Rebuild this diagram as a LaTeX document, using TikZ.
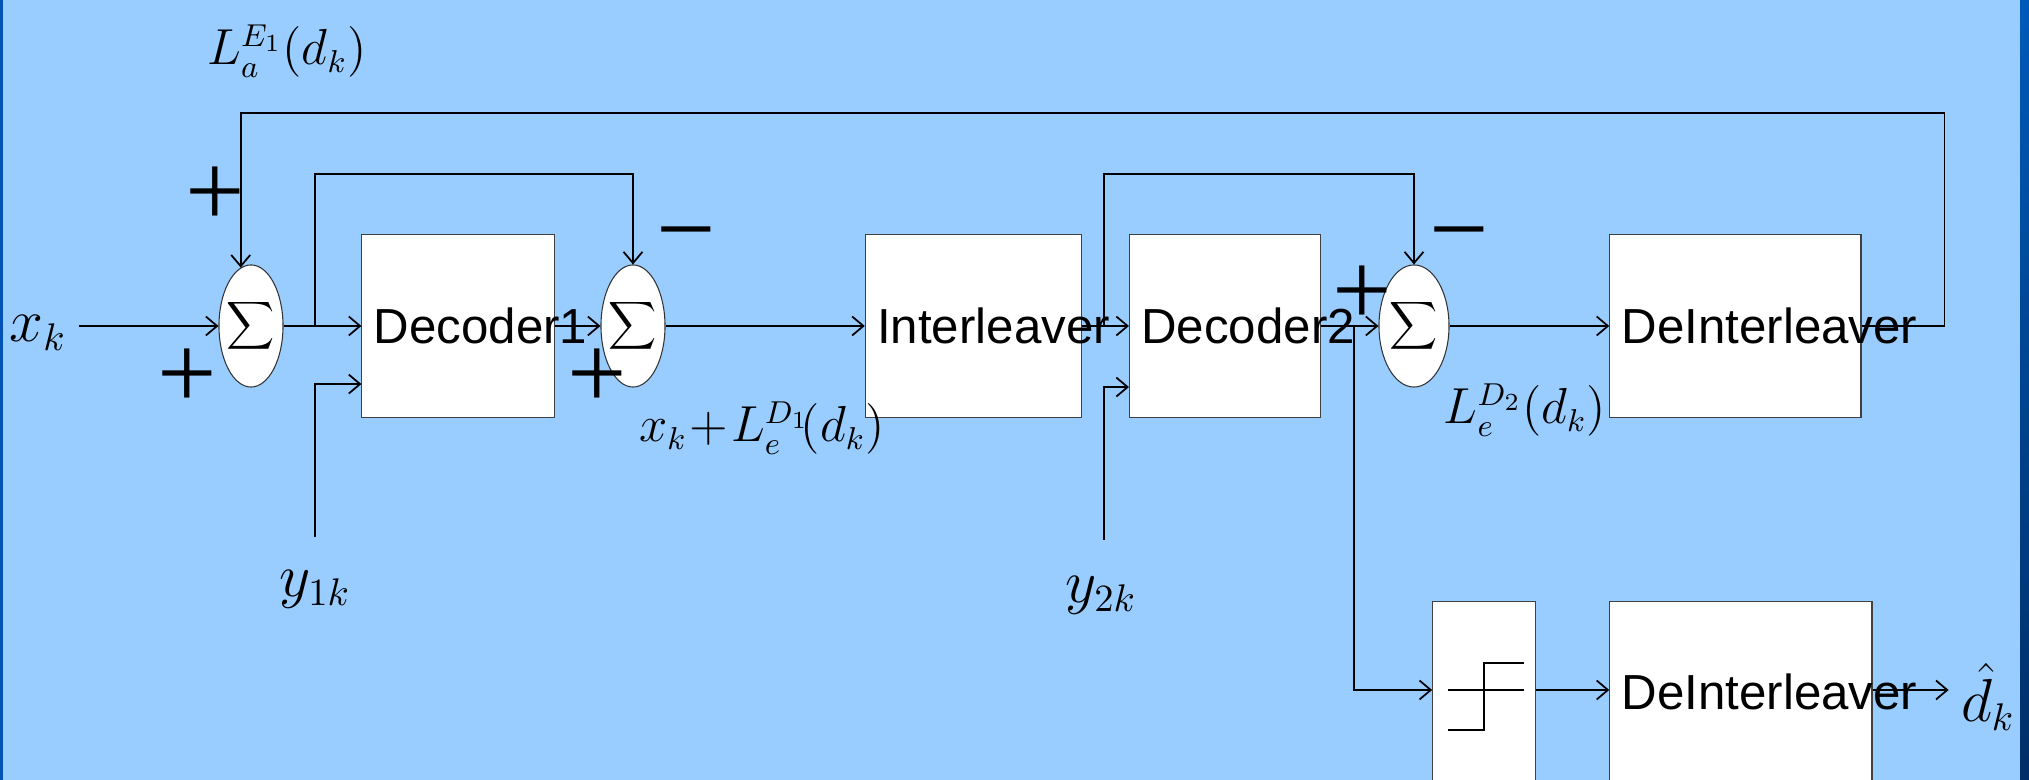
\documentclass[tikz,border=0pt]{standalone}
\usepackage{amsmath, amssymb}
\usepackage{fontspec}
\usepackage{tikz}
\usetikzlibrary{shapes.geometric, arrows.meta, positioning, calc}
\newfontfamily\blkfont{Liberation Sans}
\newfontfamily\signfont{Liberation Serif}
\definecolor{panelblue}{HTML}{99CCFF}
\definecolor{edgeblue}{HTML}{0052B4}
\definecolor{edgetop}{HTML}{005AB9}
\definecolor{edgebottom}{HTML}{002E66}

\begin{document}
\begin{tikzpicture}[
    x=0.01cm, y=-0.01cm,
    blk/.style={rectangle, draw=black!75, fill=white, line width=0.3pt, minimum height=1.83cm, inner sep=0pt},
    blktxt/.style={anchor=west, font=\blkfont\fontsize{14}{16}\selectfont},
    summer/.style={ellipse, draw=black!80, fill=white, line width=0.3pt, minimum width=0.64cm, minimum height=1.22cm, inner sep=0pt,
        label={[inner sep=0pt, font=\fontsize{9.5}{10}\selectfont]center:$\displaystyle\sum$}},
    sgn/.style={anchor=base, inner sep=0pt, font=\signfont\fontsize{30}{30}\selectfont},
    mlbl/.style={font=\fontsize{16}{18}\selectfont},
    llbl/.style={font=\fontsize{13.5}{16}\selectfont},
    arrow/.style={-{Straight Barb[length=3.2pt, width=5.4pt]}, line width=0.5pt},
    wire/.style={line width=0.5pt},
]
    \useasboundingbox (0,0) rectangle (2029,780);
    \fill[panelblue] (0,0) rectangle (2029,780);
    \fill[edgeblue] (0,0) rectangle (3,780);
    \shade[top color=edgetop, bottom color=edgebottom] (2020,0) rectangle (2029,780);

    % adders
    \node[summer] (s1) at (251,326) {};
    \node[summer] (s2) at (633,326) {};
    \node[summer, minimum width=0.7cm] (s3) at (1414,326) {};

    % blocks
    \node[blk, minimum width=1.92cm, label={[blktxt]west:Decoder1}] (dec1) at (458,326) {};
    \node[blk, minimum width=2.16cm, right=3.1cm of dec1, label={[blktxt]west:Interleaver}] (il) {};
    \node[blk, minimum width=1.91cm, right=0.47cm of il, label={[blktxt]west:Decoder2}] (dec2) {};
    \node[blk, minimum width=2.51cm, right=2.88cm of dec2, label={[blktxt]west:DeInterleaver}] (dil1) {};
    \node[blk, minimum width=2.62cm, minimum height=2cm, below right=1.83cm and 0cm of dil1.south west,
        label={[blktxt, yshift=0.1cm]west:DeInterleaver}] (dil2) {};
    \node[blk, minimum width=1.03cm, minimum height=2cm, left=0.73cm of dil2] (hard) {};

    % labels
    \node[mlbl] (xk) at (38,333) {$x_k$};
    \node[llbl] (la) at (287,51) {$L_a^{E_1}(d_k)$};
    \node[mlbl] (y1k) at (315,589) {$y_{1k}$};
    \node[llbl] (xle) at (762,428) {$x_k\!+\!L_e^{D_1}\!(d_k)$};
    \node[mlbl] (y2k) at (1101,595) {$y_{2k}$};
    \node[llbl] (le) at (1525,410) {$L_e^{D_2}(d_k)$};
    \node[mlbl] (dhat) at (1988,697) {$\hat{d}_k$};

    % signs
    \node[sgn] (p1) at (215,227) {+};
    \node[sgn] (p2) at (187,409) {+};
    \node[sgn] (p3) at (597,409) {+};
    \node[sgn] (m1) at (686,265) {−};
    \node[sgn] (p4) at (1362,326) {+};
    \node[sgn] (m2) at (1459,265) {−};

    \coordinate (br1) at (315,326);
    \coordinate (in1) at (315,537);
    \coordinate (br2) at (1104,326);
    \coordinate (in2) at (1104,540);
    \coordinate (br3) at (1354,326);
    \coordinate (low) at (1354,690);

    \draw[arrow] (xk.east |- s1) -- (s1);
    \draw[arrow] (s1) -- (dec1);
    \draw[arrow] (br1) -- ++(0,-152) -| (s2.north);
    \draw[arrow] (in1) |- ([yshift=0.34cm]dec1.south west);
    \draw[arrow] (dec1) -- (s2);
    \draw[arrow] (s2) -- (il);
    \draw[arrow] (il) -- (dec2);
    \draw[arrow] (br2) -- ++(0,-152) -| (s3.north);
    \draw[arrow] (in2) |- ([yshift=0.31cm]dec2.south west);
    \draw[arrow] (dec2) -- (s3);
    \draw[arrow] (s3) -- (dil1);
    \draw[arrow] (dil1.east) -- ++(83,0) -- ++(0,-213) -| (s1.100);
    \draw[arrow] (br3) -- (low) -- (hard.west |- low);
    \draw[arrow] (hard.east |- low) -- (dil2.west |- low);
    \draw[arrow] (dil2.east |- low) -- (dhat.west |- low);

    % hard limiter
    \draw[wire, shift={(hard.center |- low)}] (-36,0) -- (40,0) (-36,40) -- (0,40) -- (0,-27) -- (40,-27);
\end{tikzpicture}
\end{document}
